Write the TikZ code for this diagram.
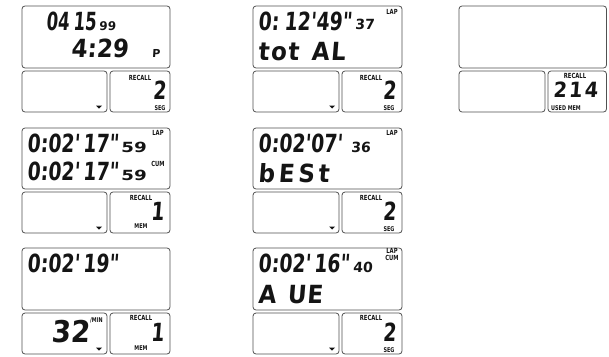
\documentclass[tikz,border=0pt]{standalone}
\usepackage{fontspec}
\newfontfamily\lcdfont[FakeStretch=0.75,FakeSlant=0.08,WordSpace=0.5]{DejaVu Sans}
\newfontfamily\lcdnarrow[FakeStretch=0.66,FakeSlant=0.08,WordSpace=0.7]{DejaVu Sans}
\newfontfamily\lcdwide[FakeStretch=0.92,FakeSlant=0.08,WordSpace=1.3]{DejaVu Sans}
\newfontfamily\lcdsmall[FakeStretch=1.0,FakeSlant=0.06]{DejaVu Sans}
\newfontfamily\lcdsmallw[FakeStretch=1.3,FakeSlant=0.06]{DejaVu Sans}
\newfontfamily\lblfont[FakeStretch=0.75]{DejaVu Sans}
\definecolor{boxgray}{HTML}{505050}
\definecolor{ink}{HTML}{141414}
\newcommand{\boxat}[5]{\node[lcdbox,minimum width={(#4-#2)*1pt},minimum height={(#5-#3)*1pt}] (#1) at ({(#2+#4)/2},{(#3+#5)/2}) {};}
\tikzset{
  lcdbox/.style={draw=boxgray,line width=0.8pt,rounded corners=3pt,inner sep=0pt},
  big/.style={font=\lcdfont\bfseries\fontsize{25}{25}\selectfont,text=ink,inner sep=0pt,anchor=base west},
  word/.style={font={\lcdwide\bfseries\fontsize{25}{25}\selectfont\addfontfeatures{LetterSpace=#1}},text=ink,inner sep=0pt,anchor=base west},
  mid/.style={font=\lcdfont\bfseries\fontsize{25}{25}\selectfont,text=ink,inner sep=0pt,anchor=base east},
  small/.style={font=\lcdsmall\bfseries\fontsize{14}{14}\selectfont,text=ink,inner sep=0pt,anchor=base west},
  smallw/.style={font=\lcdsmallw\bfseries\fontsize{14}{14}\selectfont,text=ink,inner sep=0pt,anchor=base west},
  lbl/.style={font=\lblfont\bfseries\fontsize{7}{7}\selectfont,text=ink,inner sep=0pt,anchor=base},
  lbls/.style={font=\lblfont\bfseries\fontsize{6.5}{6.5}\selectfont,text=ink,inner sep=0pt,anchor=base},
  tri/.style={fill=ink,draw=none}
}
\begin{document}
\begin{tikzpicture}[x=1pt,y=-1pt]
\useasboundingbox (0,0) rectangle (609,356);
% ---- boxes ----
\boxat{a1}{22}{6}{170}{68}
\boxat{a1l}{22}{71}{107}{112}
\boxat{a1r}{110}{71}{170}{112}
\boxat{b1}{253}{6}{402}{68}
\boxat{b1l}{253}{71}{339}{112}
\boxat{b1r}{342}{71}{402}{112}
\boxat{c1}{459}{6}{606.5}{68}
\boxat{c1l}{459}{71}{545}{112}
\boxat{c1r}{548}{71}{606.5}{112}
\boxat{a2}{22}{128}{170}{189}
\boxat{a2l}{22}{192}{107}{233}
\boxat{a2r}{110}{192}{170}{233}
\boxat{b2}{253}{128}{402}{189}
\boxat{b2l}{253}{192}{339}{233}
\boxat{b2r}{342}{192}{402}{233}
\boxat{a3}{22}{248}{170}{310}
\boxat{a3l}{22}{313}{107}{354}
\boxat{a3r}{110}{313}{170}{354}
\boxat{b3}{253}{248}{402}{310}
\boxat{b3l}{253}{313}{339}{354}
\boxat{b3r}{342}{313}{402}{354}
% ---- triangles ----
\foreach \x/\y in {99/107,99/228,99/349,332/107,332/228,332/349}{
  \fill[tri] (\x-3,\y-1.5) -- (\x+3,\y-1.5) -- (\x,\y+1.5) -- cycle;
}
% ---- panel a1 ----
\node[big,font=\lcdnarrow\bfseries\fontsize{25}{25}\selectfont] (a1t) at (46,30) {04 15};
\node[small,font=\lcdsmall\bfseries\fontsize{12}{12}\selectfont] (a1s) at (99,30) {99};
\node[big,font=\lcdwide\bfseries\fontsize{25}{25}\selectfont] (a1b) at (71,57) {4:29};
\node[small,font=\lcdsmall\bfseries\fontsize{11}{11}\selectfont] (a1p) at (152,57) {P};
\node[lbl] (a1rc) at (140,80) {RECALL};
\node[mid] (a1n) at (166,99) {2};
\node[lbls] (a1sg) at (160,110) {SEG};
% ---- panel b1 ----
\node[big] (b1t) at (258,30) {0: 12'49"};
\node[small] (b1s) at (355,29) {37};
\node[lbl] (b1lap) at (392,14) {LAP};
\node[word=6] (b1b) at (258,60) {tot AL};
\node[lbl] (b1rc) at (371,80) {RECALL};
\node[mid] (b1n) at (396,99) {2};
\node[lbls] (b1sg) at (389,110) {SEG};
% ---- panel c1 ----
\node[lbl] (c1rc) at (575,78) {RECALL};
\node[word=8,font={\lcdwide\bfseries\fontsize{21}{21}\selectfont\addfontfeatures{LetterSpace=10}}] (c1n) at (553,97) {214};
\node[lbls] (c1um) at (566,110) {USED MEM};
% ---- panel a2 ----
\node[big] (a2t) at (27,152) {0:02' 17"};
\node[smallw] (a2s) at (121,152) {59};
\node[lbl] (a2lap) at (158,135) {LAP};
\node[big] (a2b) at (27,180) {0:02' 17"};
\node[smallw] (a2s2) at (121,180) {59};
\node[lbl] (a2cum) at (158,166) {CUM};
\node[lbl] (a2rc) at (141,200) {RECALL};
\node[mid] (a2n) at (164,220) {1};
\node[lbls] (a2mm) at (141,228) {MEM};
% ---- panel b2 ----
\node[big] (b2t) at (258,152) {0:02'07'};
\node[small] (b2s) at (351,152) {36};
\node[lbl] (b2lap) at (392,135) {LAP};
\node[word=15] (b2b) at (258,182) {bESt};
\node[lbl] (b2rc) at (371,200) {RECALL};
\node[mid] (b2n) at (396,220) {2};
\node[lbls] (b2sg) at (389,231) {SEG};
% ---- panel a3 ----
\node[big] (a3t) at (27,272) {0:02' 19"};
\node[word=0,font=\lcdwide\bfseries\fontsize{30}{30}\selectfont] (a3n) at (51,342) {32};
\node[lbls,anchor=base west] (a3min) at (90,322) {/MIN};
\node[lbl] (a3rc) at (141,320) {RECALL};
\node[mid] (a3m) at (164,341) {1};
\node[lbls] (a3mm) at (141,350) {MEM};
% ---- panel b3 ----
\node[big] (b3t) at (258,272) {0:02' 16"};
\node[small] (b3s) at (353,272) {40};
\node[lbl] (b3lap) at (392,253) {LAP};
\node[lbl] (b3cum) at (392,260) {CUM};
\node[word=3] (b3b) at (258,303) {A UE};
\node[lbl] (b3rc) at (371,320) {RECALL};
\node[mid] (b3n) at (396,341) {2};
\node[lbls] (b3sg) at (389,352) {SEG};
\end{tikzpicture}
\end{document}
